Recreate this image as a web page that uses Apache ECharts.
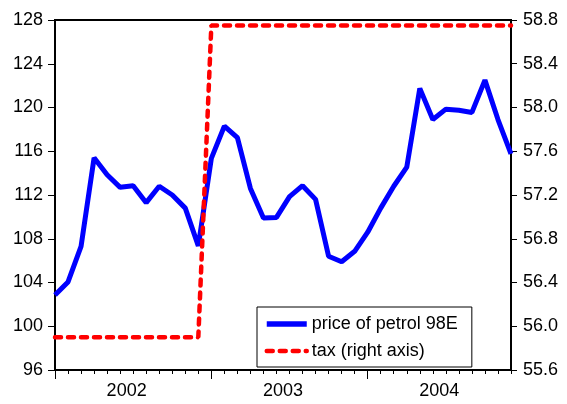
<!DOCTYPE html>
<html>
<head>
<meta charset="utf-8">
<script src="https://cdn.jsdelivr.net/npm/echarts@6/dist/echarts.min.js"></script>
<style>
html,body{margin:0;padding:0;background:#fff;}
#chart{width:567px;height:404px;}
</style>
</head>
<body>
<div id="chart"></div>
<script>
var months = [
  "2002-01","2002-02","2002-03","2002-04","2002-05","2002-06","2002-07","2002-08","2002-09","2002-10","2002-11","2002-12",
  "2003-01","2003-02","2003-03","2003-04","2003-05","2003-06","2003-07","2003-08","2003-09","2003-10","2003-11","2003-12",
  "2004-01","2004-02","2004-03","2004-04","2004-05","2004-06","2004-07","2004-08","2004-09","2004-10","2004-11","2004-12"
];
var petrolPrice = [
  102.85, 104.05, 107.3, 115.4, 113.85, 112.7, 112.85, 111.3, 112.8, 112.0, 110.8, 107.35,
  115.35, 118.3, 117.25, 112.6, 109.9, 109.95, 111.85, 112.85, 111.6, 106.4, 105.9, 106.85,
  108.6, 110.8, 112.8, 114.55, 121.75, 118.9, 119.85, 119.75, 119.55, 122.5, 118.9, 115.75
];
var tax = [
  55.9, 55.9, 55.9, 55.9, 55.9, 55.9, 55.9, 55.9, 55.9, 55.9, 55.9, 55.9,
  58.75, 58.75, 58.75, 58.75, 58.75, 58.75, 58.75, 58.75, 58.75, 58.75, 58.75, 58.75,
  58.75, 58.75, 58.75, 58.75, 58.75, 58.75, 58.75, 58.75, 58.75, 58.75, 58.75, 58.75
];
var seriesNames = ["price of petrol 98E", "tax (right axis)"];

var chart = echarts.init(document.getElementById('chart'), null, {renderer: 'canvas'});
var font = 'Liberation Sans, Arial, sans-serif';
chart.setOption({
  animation: false,
  backgroundColor: '#fff',
  grid: {left: 55, right: 56, top: 20, bottom: 34, show: true, borderColor: '#000', borderWidth: 2},
  legend: {
    orient: 'vertical', left: 257, top: 307,
    padding: [8, 14, 7, 7], itemGap: 9, itemWidth: 40, itemHeight: 16,
    borderColor: '#000', borderWidth: 1, backgroundColor: '#fff',
    textStyle: {fontSize: 18, color: '#000', fontFamily: font},
    itemStyle: {opacity: 0},
    data: [
      {name: seriesNames[0], lineStyle: {color: '#0000ff', width: 5.5}, itemStyle: {opacity: 0}},
      {name: seriesNames[1], lineStyle: {color: '#ff0000', width: 4.5, type: [6, 7], cap: 'round'}, itemStyle: {opacity: 0}}
    ]
  },
  xAxis: [{
    type: 'category', data: months, boundaryGap: false,
    axisLine: {show: true, lineStyle: {color: '#000', width: 2}},
    axisTick: {show: true, interval: 0, length: 4, lineStyle: {color: '#000', width: 1}},
    axisLabel: {
      interval: function (i) { return i % 12 === 5; },
      formatter: function (v) { return v.slice(0, 4); },
      fontSize: 18, color: '#000', fontFamily: font, margin: 12,
      padding: [0, 0, 0, 13]
    },
    splitLine: {show: false}
  }, {
    type: 'category', data: months, boundaryGap: false, position: 'bottom',
    axisLine: {show: false},
    axisTick: {show: true, interval: function (i) { return i % 12 === 0; }, length: 9, lineStyle: {color: '#000', width: 1}},
    axisLabel: {show: false},
    splitLine: {show: false}
  }],
  yAxis: [{
    type: 'value', min: 96, max: 128, interval: 4, position: 'left',
    axisLine: {show: true, lineStyle: {color: '#000', width: 2}},
    axisTick: {show: true, length: 7, lineStyle: {color: '#000', width: 1}},
    axisLabel: {fontSize: 18, color: '#000', fontFamily: font, margin: 12},
    splitLine: {show: false}
  }, {
    type: 'value', min: 55.6, max: 58.8, interval: 0.4, position: 'right',
    axisLine: {show: true, lineStyle: {color: '#000', width: 2}},
    axisTick: {show: true, length: 6, lineStyle: {color: '#000', width: 1}},
    axisLabel: {fontSize: 18, color: '#000', fontFamily: font, margin: 12,
      formatter: function (v) { return v.toFixed(1); }},
    splitLine: {show: false}
  }],
  series: [{
    name: seriesNames[0], type: 'line', data: petrolPrice, xAxisIndex: 0, yAxisIndex: 0,
    symbol: 'none', showSymbol: false,
    lineStyle: {color: '#0000ff', width: 5},
    itemStyle: {color: '#0000ff'}
  }, {
    name: seriesNames[1], type: 'line', data: tax, xAxisIndex: 0, yAxisIndex: 1,
    symbol: 'none', showSymbol: false,
    lineStyle: {color: '#ff0000', width: 4.5, type: [6, 7], cap: 'round'},
    itemStyle: {color: '#ff0000'}
  }]
});
</script>
</body>
</html>
